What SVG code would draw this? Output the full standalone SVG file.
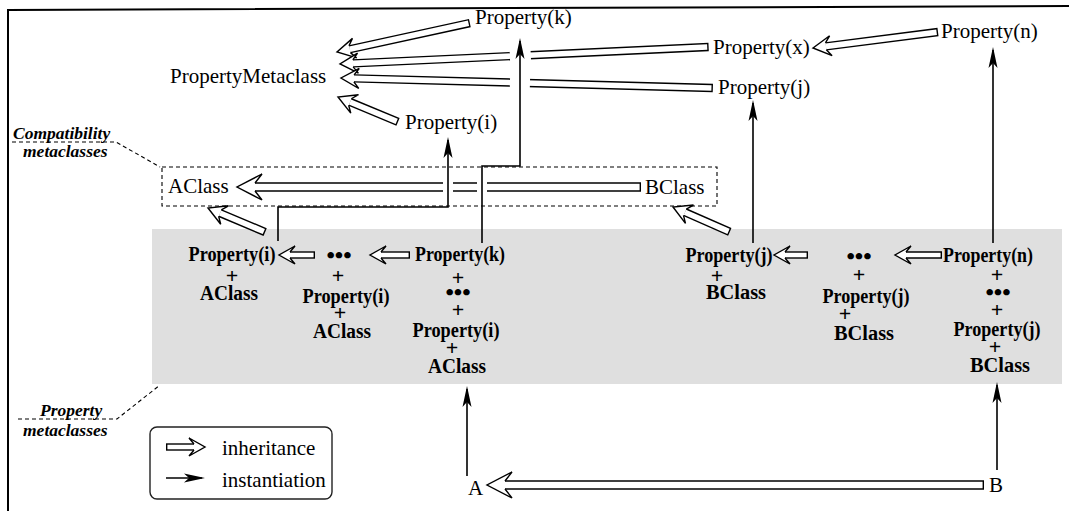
<svg xmlns="http://www.w3.org/2000/svg" width="1069" height="511" viewBox="0 0 1069 511" font-family="'Liberation Serif', 'Times New Roman', Times, serif">
<style>
 text{font-family:'Liberation Serif','Times New Roman',Times,serif;fill:#000}
 .r{font-size:21px}
 .b{font-size:20.5px;font-weight:bold;text-anchor:middle}
 .pl{font-size:22px;font-weight:bold;text-anchor:middle}
 .dt{font-size:24px;font-weight:bold;text-anchor:middle}
 .lab{font-size:17.5px;font-weight:bold;font-style:italic}
 .inst{fill:none;stroke:#000;stroke-width:1.6;marker-end:url(#ah)}
 .os{stroke:#000;stroke-width:7.4} .is{stroke:#fff;stroke-width:4.6}
 .om{stroke:#000;stroke-width:8.4} .im{stroke:#fff;stroke-width:5.6}
 .ol{stroke:#000;stroke-width:9.4} .il{stroke:#fff;stroke-width:6.6}
 .hd{fill:#fff;stroke:#000;stroke-width:1.4;stroke-linejoin:miter}
 .dash{fill:none;stroke:#000;stroke-width:1.1;stroke-dasharray:4 3}
 .gap{fill:#fff}
</style>
<defs>
 <marker id="ah" markerUnits="userSpaceOnUse" markerWidth="24" markerHeight="12" viewBox="-22 -6 24 12" refX="-3" refY="0" orient="auto">
  <path d="M0,0 L-21,-4.5 L-16,0 L-21,4.5 Z" fill="#000"/>
 </marker>
 <path id="hs" class="hd" d="M11,-3 L16,-9 L0,0 L16,9 L11,3"/>
 <path id="hm" class="hd" d="M13,-3.5 L18,-10 L0,0 L18,10 L13,3.5"/>
 <path id="hl" class="hd" d="M18,-4 L25,-13 L0,0 L25,13 L18,4"/>
</defs>
<rect width="1069" height="511" fill="#fff"/>
<path d="M8,511 L8,10 L1069,6" fill="none" stroke="#000" stroke-width="2"/>

<!-- regions -->
<rect id="property-band" x="152" y="229" width="910" height="155" fill="#dfdfdf"/>
<rect id="compat-box" class="dash" x="162" y="167" width="555" height="39"/>

<g id="lbl-compat">
 <text class="lab" x="13" y="139">Compatibility</text>
 <text class="lab" x="23" y="157">metaclasses</text>
 <polyline class="dash" points="12,142 116,142 160,167"/>
</g>
<g id="lbl-property">
 <text class="lab" x="40" y="416">Property</text>
 <text class="lab" x="23" y="436">metaclasses</text>
 <polyline class="dash" points="18,419 117,419 160,385"/>
</g>

<!-- connectors -->
<g id="connectors">
 <!-- inheritance -->
 <g transform="translate(337 52) rotate(-12.3)"><line class="om" x1="13" x2="136"/><line class="im" x1="13" x2="134.6"/><use href="#hm"/></g>
 <g transform="translate(340 64) rotate(-2.64)"><line class="om" x1="13" x2="369"/><line class="im" x1="13" x2="367.6"/><rect class="gap" x="170" y="-6" width="21" height="12"/><use href="#hm"/></g>
 <g transform="translate(341 78) rotate(1.54)"><line class="om" x1="13" x2="372"/><line class="im" x1="13" x2="370.6"/><rect class="gap" x="169" y="-6" width="20" height="12"/><use href="#hm"/></g>
 <g transform="translate(338 97) rotate(22.6)"><line class="om" x1="13" x2="65"/><line class="im" x1="13" x2="63.6"/><use href="#hm"/></g>
 <g transform="translate(813 48) rotate(-7.29)"><line class="om" x1="13" x2="126"/><line class="im" x1="13" x2="124.6"/><use href="#hm"/></g>
 <g transform="translate(237 187)"><line class="ol" x1="18" x2="404"/><line class="il" x1="18" x2="402.6"/><rect class="gap" x="206" y="-6" width="10" height="12"/><rect class="gap" x="240" y="-6" width="10" height="12"/><use href="#hl"/></g>
 <g transform="translate(208 208) rotate(22.83)"><line class="om" x1="13" x2="62"/><line class="im" x1="13" x2="60.6"/><use href="#hm"/></g>
 <g transform="translate(673 207) rotate(23.68)"><line class="om" x1="13" x2="62"/><line class="im" x1="13" x2="60.6"/><use href="#hm"/></g>
 <g transform="translate(279 255)"><line class="os" x1="11" x2="36"/><line class="is" x1="11" x2="34.6"/><use href="#hs"/></g>
 <g transform="translate(370 255)"><line class="os" x1="11" x2="40"/><line class="is" x1="11" x2="38.6"/><use href="#hs"/></g>
 <g transform="translate(774 255)"><line class="os" x1="11" x2="34"/><line class="is" x1="11" x2="32.6"/><use href="#hs"/></g>
 <g transform="translate(895 255)"><line class="os" x1="11" x2="47"/><line class="is" x1="11" x2="45.6"/><use href="#hs"/></g>
 <g transform="translate(487 485)"><line class="ol" x1="18" x2="497"/><line class="il" x1="18" x2="495.6"/><use href="#hl"/></g>
 <!-- instantiation -->
 <polyline class="inst" points="278,241 278,207 448,207 448,140"/>
 <polyline class="inst" points="482,243 482,166 520,166 520,41"/>
 <line class="inst" x1="753" y1="243" x2="753" y2="103"/>
 <line class="inst" x1="993" y1="243" x2="993" y2="50"/>
 <line class="inst" x1="467" y1="476" x2="467" y2="389"/>
 <line class="inst" x1="997" y1="470" x2="997" y2="385"/>
</g>

<!-- top nodes -->
<g id="n-propk-top"><text class="r" x="475" y="24">Property(k)</text></g>
<g id="n-propx"><text class="r" x="713" y="54">Property(x)</text></g>
<g id="n-propn-top"><text class="r" x="941" y="38">Property(n)</text></g>
<g id="n-propmeta"><text class="r" x="170" y="83">PropertyMetaclass</text></g>
<g id="n-propj-top"><text class="r" x="718" y="94">Property(j)</text></g>
<g id="n-propi-top"><text class="r" x="405" y="129">Property(i)</text></g>
<g id="n-aclass"><text class="r" x="168" y="193">AClass</text></g>
<g id="n-bclass"><text class="r" x="645" y="194">BClass</text></g>

<!-- band nodes -->
<g id="n-col1">
 <text class="b" x="232" y="261" textLength="87" lengthAdjust="spacingAndGlyphs">Property(i)</text>
 <text class="pl" x="232" y="283">+</text>
 <text class="b" x="229" y="300" textLength="58" lengthAdjust="spacingAndGlyphs">AClass</text>
</g>
<g id="n-col2">
 <text class="dt" x="339" y="263">•••</text>
 <text class="pl" x="338" y="283">+</text>
 <text class="b" x="346" y="303" textLength="87" lengthAdjust="spacingAndGlyphs">Property(i)</text>
 <text class="pl" x="340" y="320">+</text>
 <text class="b" x="342" y="338" textLength="58" lengthAdjust="spacingAndGlyphs">AClass</text>
</g>
<g id="n-col3">
 <text class="b" x="460" y="261" textLength="90" lengthAdjust="spacingAndGlyphs">Property(k)</text>
 <text class="pl" x="458" y="285">+</text>
 <text class="dt" x="458" y="300">•••</text>
 <text class="pl" x="458" y="317">+</text>
 <text class="b" x="456" y="337" textLength="87" lengthAdjust="spacingAndGlyphs">Property(i)</text>
 <text class="pl" x="452" y="355">+</text>
 <text class="b" x="457" y="373" textLength="58" lengthAdjust="spacingAndGlyphs">AClass</text>
</g>
<g id="n-col4">
 <text class="b" x="729" y="262" textLength="87" lengthAdjust="spacingAndGlyphs">Property(j)</text>
 <text class="pl" x="717" y="283">+</text>
 <text class="b" x="736" y="299" textLength="60" lengthAdjust="spacingAndGlyphs">BClass</text>
</g>
<g id="n-col5">
 <text class="dt" x="859" y="264">•••</text>
 <text class="pl" x="859" y="282">+</text>
 <text class="b" x="866" y="303" textLength="87" lengthAdjust="spacingAndGlyphs">Property(j)</text>
 <text class="pl" x="845" y="321">+</text>
 <text class="b" x="864" y="340" textLength="60" lengthAdjust="spacingAndGlyphs">BClass</text>
</g>
<g id="n-col6">
 <text class="b" x="988" y="262" textLength="90" lengthAdjust="spacingAndGlyphs">Property(n)</text>
 <text class="pl" x="997" y="282">+</text>
 <text class="dt" x="998" y="300">•••</text>
 <text class="pl" x="997" y="317">+</text>
 <text class="b" x="997" y="336" textLength="87" lengthAdjust="spacingAndGlyphs">Property(j)</text>
 <text class="pl" x="995" y="354">+</text>
 <text class="b" x="1000" y="372" textLength="60" lengthAdjust="spacingAndGlyphs">BClass</text>
</g>

<g id="n-a"><text class="r" x="468" y="495">A</text></g>
<g id="n-b"><text class="r" x="989" y="492">B</text></g>

<g id="legend">
 <rect x="150" y="427" width="182" height="72" rx="7" fill="none" stroke="#222" stroke-width="1.4"/>
 <g transform="translate(205 447) rotate(180)"><line class="os" x1="11" x2="39"/><line class="is" x1="11" x2="37.6"/><use href="#hs"/></g>
 <line class="inst" x1="166" y1="478" x2="202" y2="478"/>
 <text class="r" x="222" y="455">inheritance</text>
 <text class="r" x="222" y="487">instantiation</text>
</g>
</svg>
